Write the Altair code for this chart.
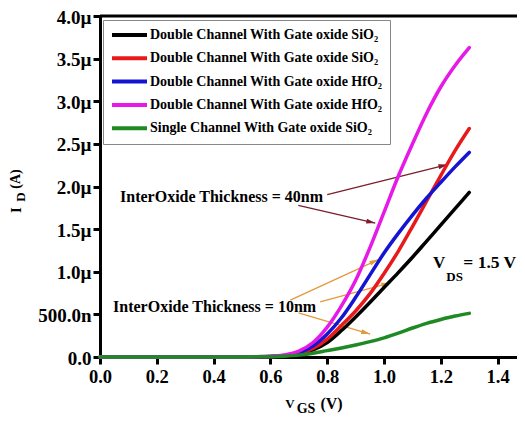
import math
import altair as alt
import pandas as pd

# ---------------- data ----------------
vgs = [0.0, 0.1, 0.2, 0.3, 0.4, 0.5, 0.55, 0.6, 0.65, 0.7, 0.75, 0.8, 0.85,
       0.9, 0.95, 1.0, 1.05, 1.1, 1.15, 1.2, 1.25, 1.3]
# drain current in microamps
id_dc_sio2_10 = [0, 0, 0, 0, 0, 0.001, 0.002, 0.004, 0.012, 0.035, 0.085, 0.17, 0.31,
                 0.47, 0.64, 0.815, 0.99, 1.17, 1.36, 1.55, 1.74, 1.93]
id_dc_sio2_40 = [0, 0, 0, 0, 0, 0.001, 0.002, 0.005, 0.014, 0.04, 0.10, 0.21, 0.37,
                 0.54, 0.74, 0.98, 1.24, 1.53, 1.83, 2.13, 2.42, 2.68]
id_dc_hfo2_10 = [0, 0, 0, 0, 0, 0.001, 0.003, 0.006, 0.018, 0.05, 0.13, 0.27, 0.46,
                 0.70, 0.96, 1.22, 1.45, 1.665, 1.865, 2.05, 2.23, 2.40]
id_dc_hfo2_40 = [0, 0, 0, 0, 0, 0.001, 0.004, 0.008, 0.025, 0.07, 0.17, 0.35, 0.60,
                 0.90, 1.28, 1.70, 2.12, 2.50, 2.86, 3.17, 3.42, 3.63]
id_sc_sio2_10 = [0, 0, 0, 0, 0, 0.001, 0.002, 0.004, 0.01, 0.022, 0.045, 0.075, 0.105,
                 0.14, 0.18, 0.225, 0.28, 0.34, 0.395, 0.44, 0.48, 0.512]

labels = [
    "Double Channel With Gate oxide SiO\u2082",
    "Double Channel With Gate oxide SiO\u2082 ",
    "Double Channel With Gate oxide HfO\u2082",
    "Double Channel With Gate oxide HfO\u2082 ",
    "Single Channel With Gate oxide SiO\u2082",
]
series = [id_dc_sio2_10, id_dc_sio2_40, id_dc_hfo2_10, id_dc_hfo2_40, id_sc_sio2_10]
colors = ["#000000", "#e8191a", "#1414d2", "#e619e6", "#1f8a23"]

x_ticks = [round(i * 0.1, 1) for i in range(15)]
y_ticks = [round(i * 0.25, 2) for i in range(17)]

# ---------------- layout ----------------
W, H = 417, 341
XMAX, YMAX = 1.468, 4.0
kx, ky = W / XMAX, H / YMAX
FONT = "Liberation Serif"

rows = []
for lab, vals in zip(labels, series):
    for xv, yv in zip(vgs, vals):
        rows.append({"series": lab, "vgs": xv, "id": yv})
df = pd.DataFrame(rows)

xscale = alt.Scale(domain=[0, XMAX], nice=False, zero=False)
yscale = alt.Scale(domain=[0, YMAX], nice=False, zero=False)

common_axis = dict(
    labelFont=FONT, labelFontWeight="bold", labelColor="black",
    domainColor="black", domainWidth=3, tickColor="black", tickWidth=3,
    grid=False, title=None, labelFlush=False, labelOverlap=False,
)

x_axis = alt.Axis(
    values=x_ticks,
    labelExpr="round(datum.value*10) % 2 === 0 ? format(datum.value, '.1f') : ''",
    tickSize={"condition": {"test": "round(datum.value*10) % 2 === 0", "value": 7}, "value": 4},
    labelFontSize=18.5, labelPadding=3, **common_axis,
)
y_axis = alt.Axis(
    values=y_ticks,
    labelExpr=("round(datum.value*4) % 2 !== 0 ? '' : (datum.value === 0 ? '0.0' : "
               "(datum.value < 1 ? format(datum.value*1000, '.1f') + 'n' : "
               "format(datum.value, '.1f') + '\u00b5'))"),
    tickSize={"condition": {"test": "round(datum.value*4) % 2 === 0", "value": 7}, "value": 4},
    labelFontSize=19, labelPadding=2, labelOffset=1, **common_axis,
)

lines = alt.Chart(df).mark_line(strokeWidth=3.5, interpolate="monotone", strokeCap="round").encode(
    x=alt.X("vgs:Q", scale=xscale, axis=x_axis),
    y=alt.Y("id:Q", scale=yscale, axis=y_axis),
    color=alt.Color(
        "series:N",
        scale=alt.Scale(domain=labels, range=colors),
        legend=alt.Legend(
            title=None, orient="none", legendX=3, legendY=4,
            symbolType="stroke", symbolSize=1225, symbolStrokeWidth=4,
            clipHeight=16, rowPadding=7.3, labelFont=FONT, labelFontSize=14,
            labelFontWeight="bold", labelColor="black", labelLimit=0,
            labelOffset=1, padding=7, strokeColor="#888888", fillColor="white",
        ),
    ),
    detail="series:N",
)

top_rule = alt.Chart(pd.DataFrame({"y": [YMAX]})).mark_rule(color="black", strokeWidth=3).encode(
    y=alt.Y("y:Q", scale=yscale)
)

# ---------------- annotations ----------------
arrows_40 = [(0.800, 1.906, 1.223, 2.257), (0.698, 1.778, 0.969, 1.571)]
arrows_10 = [(0.670, 0.667, 0.980, 1.143), (0.775, 0.647, 1.022, 0.869), (0.699, 0.518, 0.951, 0.269)]

HEAD = 4.5  # half length of arrowhead in px


def arrow_frames(arrs):
    seg = pd.DataFrame(arrs, columns=["x1", "y1", "x2", "y2"])
    heads = []
    for x1, y1, x2, y2 in arrs:
        dx = (x2 - x1) * kx
        dy = -(y2 - y1) * ky
        L = math.hypot(dx, dy)
        ux, uy = dx / L, dy / L
        ang = math.degrees(math.atan2(dx, -dy)) % 360
        cx = x2 - HEAD * ux / kx
        cy = y2 + HEAD * uy / ky
        heads.append({"x": cx, "y": cy, "ang": ang})
    return seg, pd.DataFrame(heads)


def arrow_layers(arrs, color):
    seg, heads = arrow_frames(arrs)
    r = alt.Chart(seg).mark_rule(color=color, strokeWidth=1.3).encode(
        x=alt.X("x1:Q", scale=xscale), y=alt.Y("y1:Q", scale=yscale), x2="x2:Q", y2="y2:Q"
    )
    h = alt.Chart(heads).mark_point(
        shape="M0,-1L-0.55,1L0.55,1Z", filled=True, size=HEAD * HEAD * 4, color=color, opacity=1
    ).encode(
        x=alt.X("x:Q", scale=xscale), y=alt.Y("y:Q", scale=yscale), angle=alt.Angle("ang:Q", scale=None)
    )
    return [r, h]


def data_text(x, y, txt, size, align="left"):
    return alt.Chart(pd.DataFrame({"x": [x], "y": [y], "t": [txt]})).mark_text(
        font=FONT, fontWeight="bold", fontSize=size, color="black", align=align, baseline="middle"
    ).encode(x=alt.X("x:Q", scale=xscale), y=alt.Y("y:Q", scale=yscale), text="t:N")


def px_text(px, py, txt, size, angle=0):
    kw = dict(font=FONT, fontWeight="bold", fontSize=size, color="black",
              align="center", baseline="middle", text=txt)
    if angle:
        kw["angle"] = angle
    return alt.Chart(pd.DataFrame({"a": [0]})).mark_text(**kw).encode(
        x=alt.value(px), y=alt.value(py)
    )


texts = [
    data_text(0.0705, 1.871, "InterOxide Thickness = 40nm", 16),
    data_text(0.046, 0.585, "InterOxide Thickness = 10nm", 16),
    data_text(1.172, 1.105, "V", 17),
    data_text(1.219, 0.942, "DS", 13),
    data_text(1.279, 1.099, "= 1.5 V", 17.5),
    # x title V_GS (V)
    px_text(190, 388, "V", 13),
    px_text(206, 393, "GS", 14),
    px_text(231.5, 388, "(V)", 16),
    # y title I_D (A)
    px_text(-84, 194, "I", 15, 270),
    px_text(-79, 181, "D", 13, 270),
    px_text(-84, 163, "(A)", 14, 270),
]

chart = alt.layer(
    top_rule,
    *arrow_layers(arrows_40, "#7a1f2b"),
    *arrow_layers(arrows_10, "#e39a3c"),
    lines,
    *texts,
).properties(
    width=W, height=H,
    padding={"left": 92, "top": 8, "right": 0, "bottom": 58},
    autosize=alt.AutoSizeParams(type="none"),
).configure_view(stroke=None)

chart.save("out.html", embed_options={"renderer": "svg", "actions": False})
